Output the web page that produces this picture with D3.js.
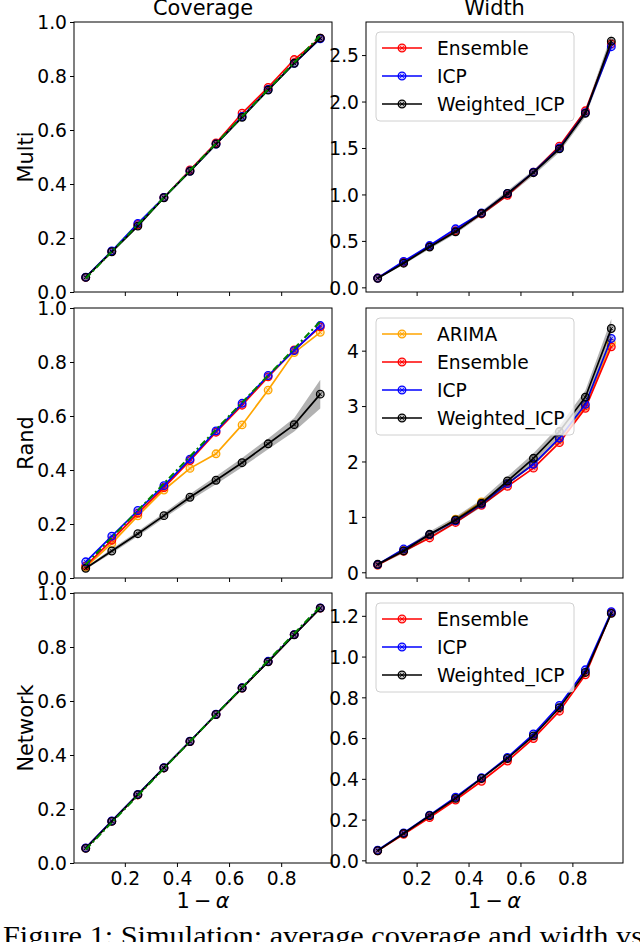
<!DOCTYPE html>
<html>
<head>
<meta charset="utf-8">
<script src="https://cdn.jsdelivr.net/npm/d3@7"></script>
<style>
  body { margin: 0; background: #fff; }
  svg { display: block; }
  text { font-family: "DejaVu Sans", sans-serif; fill: #000; }
</style>
</head>
<body>
<svg id="chart" width="640" height="942"></svg>
<script>
// nominal coverage levels (1 - alpha)
const levels = [0.05, 0.15, 0.25, 0.35, 0.45, 0.55, 0.65, 0.75, 0.85, 0.95];
const xTickValues = [0.2, 0.4, 0.6, 0.8];
const rowNames = ["Multi", "Rand", "Network"];
const colTitles = ["Coverage", "Width"];

// Multi
const multiCovEnsemble = [0.054, 0.150, 0.250, 0.350, 0.452, 0.552, 0.662, 0.758, 0.861, 0.940];
const multiCovICP      = [0.055, 0.152, 0.254, 0.350, 0.448, 0.548, 0.650, 0.750, 0.847, 0.938];
const multiCovWeighted = [0.054, 0.149, 0.244, 0.349, 0.447, 0.548, 0.647, 0.748, 0.847, 0.940];
const multiWidthEnsemble = [0.10, 0.27, 0.44, 0.61, 0.79, 0.99, 1.24, 1.52, 1.90, 2.62];
const multiWidthICP      = [0.10, 0.28, 0.45, 0.63, 0.80, 1.01, 1.24, 1.50, 1.88, 2.59];
const multiWidthWeighted = [0.097, 0.26, 0.434, 0.598, 0.796, 1.01, 1.234, 1.49, 1.873, 2.65];
const multiWidthWeightedErr = [0.01, 0.015, 0.02, 0.02, 0.025, 0.03, 0.03, 0.035, 0.04, 0.07];

// Rand
const randCovARIMA    = [0.040, 0.128, 0.230, 0.326, 0.406, 0.460, 0.567, 0.696, 0.835, 0.910];
const randCovEnsemble = [0.045, 0.140, 0.240, 0.335, 0.435, 0.540, 0.640, 0.745, 0.845, 0.930];
const randCovICP      = [0.060, 0.155, 0.250, 0.342, 0.440, 0.545, 0.647, 0.750, 0.842, 0.935];
const randCovWeighted = [0.036, 0.100, 0.164, 0.231, 0.299, 0.362, 0.427, 0.497, 0.568, 0.681];
const randCovWeightedErr = [0.004, 0.008, 0.009, 0.010, 0.012, 0.015, 0.017, 0.020, 0.025, 0.053];
const randWidthARIMA    = [0.13, 0.40, 0.67, 0.96, 1.27, 1.60, 1.95, 2.40, 3.00, 4.14];
const randWidthEnsemble = [0.13, 0.38, 0.62, 0.90, 1.21, 1.55, 1.88, 2.34, 2.96, 4.07];
const randWidthICP      = [0.14, 0.42, 0.68, 0.93, 1.23, 1.60, 1.95, 2.42, 3.03, 4.22];
const randWidthWeighted = [0.144, 0.385, 0.686, 0.944, 1.245, 1.648, 2.057, 2.54, 3.16, 4.40];
const randWidthWeightedErr = [0.02, 0.04, 0.05, 0.06, 0.07, 0.08, 0.09, 0.10, 0.12, 0.17];

// Network
const netCovEnsemble = [0.055, 0.155, 0.252, 0.352, 0.450, 0.550, 0.648, 0.746, 0.846, 0.944];
const netCovICP      = [0.056, 0.156, 0.254, 0.353, 0.451, 0.551, 0.649, 0.747, 0.846, 0.945];
const netCovWeighted = [0.054, 0.154, 0.253, 0.352, 0.450, 0.550, 0.648, 0.745, 0.845, 0.944];
const netWidthEnsemble = [0.047, 0.128, 0.210, 0.296, 0.388, 0.487, 0.598, 0.732, 0.910, 1.215];
const netWidthICP      = [0.050, 0.135, 0.222, 0.310, 0.405, 0.505, 0.620, 0.760, 0.935, 1.220];
const netWidthWeighted = [0.047, 0.132, 0.219, 0.304, 0.402, 0.500, 0.611, 0.749, 0.922, 1.212];

const colors = { ARIMA: "#ffa500", Ensemble: "#ff0000", ICP: "#0000ff", Weighted_ICP: "#000000" };

const colX = [[74, 332], [366, 623]];
const rowY = [[22, 292], [308, 578], [593, 863]];

const panels = [
  { r: 0, c: 0, diag: true, domain: [0, 1], ticks: d3.range(0, 1.01, 0.2), fmt: ".1f",
    series: [["Ensemble", multiCovEnsemble], ["ICP", multiCovICP], ["Weighted_ICP", multiCovWeighted]] },
  { r: 0, c: 1, legend: true, domain: [-0.05, 2.856], ticks: d3.range(0, 2.51, 0.5), fmt: ".1f",
    series: [["Ensemble", multiWidthEnsemble], ["ICP", multiWidthICP], ["Weighted_ICP", multiWidthWeighted, multiWidthWeightedErr]] },
  { r: 1, c: 0, diag: true, domain: [0, 1], ticks: d3.range(0, 1.01, 0.2), fmt: ".1f",
    series: [["ARIMA", randCovARIMA], ["Ensemble", randCovEnsemble], ["ICP", randCovICP], ["Weighted_ICP", randCovWeighted, randCovWeightedErr]] },
  { r: 1, c: 1, legend: true, domain: [-0.103, 4.77], ticks: [0, 1, 2, 3, 4], fmt: "d",
    series: [["ARIMA", randWidthARIMA], ["Ensemble", randWidthEnsemble], ["ICP", randWidthICP], ["Weighted_ICP", randWidthWeighted, randWidthWeightedErr]] },
  { r: 2, c: 0, diag: true, domain: [0, 1], ticks: d3.range(0, 1.01, 0.2), fmt: ".1f",
    series: [["Ensemble", netCovEnsemble], ["ICP", netCovICP], ["Weighted_ICP", netCovWeighted]] },
  { r: 2, c: 1, legend: true, domain: [-0.013, 1.312], ticks: d3.range(0, 1.21, 0.2), fmt: ".1f",
    series: [["Ensemble", netWidthEnsemble], ["ICP", netWidthICP], ["Weighted_ICP", netWidthWeighted]] }
];

const svg = d3.select("#chart");
const tickFont = 18.7;

function drawMarker(g, cx, cy, color) {
  g.append("circle")
    .attr("cx", cx).attr("cy", cy).attr("r", 3.8)
    .attr("fill", color).attr("fill-opacity", 0.25)
    .attr("stroke", color).attr("stroke-width", 1.3);
  const s = 1.8;
  g.append("path")
    .attr("d", `M${cx - s},${cy - s}L${cx + s},${cy + s}M${cx - s},${cy + s}L${cx + s},${cy - s}`)
    .attr("stroke", color).attr("stroke-width", 0.9);
}

panels.forEach(p => {
  const [x0, x1] = colX[p.c];
  const [y0, y1] = rowY[p.r];
  const x = d3.scaleLinear().domain([0.005, 0.995]).range([x0, x1]);
  const y = d3.scaleLinear().domain(p.domain).range([y1, y0]);
  const g = svg.append("g");

  const clipId = `clip${p.r}${p.c}`;
  g.append("clipPath").attr("id", clipId)
    .append("rect").attr("x", x0).attr("y", y0).attr("width", x1 - x0).attr("height", y1 - y0);
  const plot = g.append("g").attr("clip-path", `url(#${clipId})`);

  p.series.forEach(([name, vals, err]) => {
    const col = colors[name];
    const pts = levels.map((l, i) => ({ l, v: vals[i], e: err ? err[i] : 0 }));
    if (err) {
      plot.append("path")
        .attr("d", d3.area().x(d => x(d.l)).y0(d => y(d.v - d.e)).y1(d => y(d.v + d.e))(pts))
        .attr("fill", col).attr("fill-opacity", 0.3);
    }
    plot.append("path")
      .attr("d", d3.line().x(d => x(d.l)).y(d => y(d.v))(pts))
      .attr("fill", "none").attr("stroke", col).attr("stroke-width", 1.7);
    pts.forEach(d => drawMarker(plot, x(d.l), y(d.v), col));
  });

  if (p.diag) {
    plot.append("path")
      .attr("d", d3.line().x(d => x(d)).y(d => y(d))(levels))
      .attr("fill", "none").attr("stroke", "#008000").attr("stroke-width", 2)
      .attr("stroke-dasharray", "7,3,2,3");
  }

  // axes
  const xAxis = d3.axisBottom(x).tickValues(xTickValues).tickSize(4).tickPadding(5)
    .tickFormat(p.r === 2 ? d3.format(".1f") : () => "");
  const gx = g.append("g").attr("transform", `translate(0,${y1})`).call(xAxis);
  const yAxis = d3.axisLeft(y).tickValues(p.ticks).tickSize(4).tickPadding(3)
    .tickFormat(d3.format(p.fmt));
  const gy = g.append("g").attr("transform", `translate(${x0},0)`).call(yAxis);
  [gx, gy].forEach(a => {
    a.select(".domain").remove();
    a.selectAll(".tick line").attr("stroke", "#000");
    a.selectAll("text").attr("font-size", tickFont).attr("font-family", "DejaVu Sans").attr("fill", "#000");
  });
  gx.selectAll("text").attr("dy", "0.71em");
  gy.selectAll("text").attr("dy", "0.36em");

  g.append("rect")
    .attr("x", x0).attr("y", y0).attr("width", x1 - x0).attr("height", y1 - y0)
    .attr("fill", "none").attr("stroke", "#000").attr("stroke-width", 1);

  if (p.legend) {
    const n = p.series.length;
    const lx = x0 + 10, ly = y0 + 10;
    const lg = g.append("g");
    lg.append("rect")
      .attr("x", lx).attr("y", ly).attr("width", 198).attr("height", 33 + (n - 1) * 28)
      .attr("rx", 4).attr("fill", "#fff").attr("fill-opacity", 0.8)
      .attr("stroke", "#d0d0d0").attr("stroke-width", 1);
    p.series.forEach(([name], i) => {
      const cy = ly + 16 + i * 28;
      lg.append("line")
        .attr("x1", lx + 6).attr("x2", lx + 46).attr("y1", cy).attr("y2", cy)
        .attr("stroke", colors[name]).attr("stroke-width", 1.7);
      drawMarker(lg, lx + 26, cy, colors[name]);
      lg.append("text")
        .attr("x", lx + 61).attr("y", cy).attr("dy", "0.36em")
        .attr("font-size", tickFont).text(name);
    });
  }

  if (p.r === 0) {
    g.append("text").attr("x", (x0 + x1) / 2).attr("y", 15)
      .attr("text-anchor", "middle").attr("font-size", 20.9).text(colTitles[p.c]);
  }
  if (p.c === 0) {
    g.append("text")
      .attr("transform", `translate(33,${(y0 + y1) / 2}) rotate(-90)`)
      .attr("text-anchor", "middle").attr("font-size", 20.9).text(rowNames[p.r]);
  }
  if (p.r === 2) {
    const t = g.append("text").attr("x", (x0 + x1) / 2).attr("y", 908)
      .attr("text-anchor", "middle").attr("font-size", 20.9);
    t.append("tspan").text("1\u2009\u2212\u2009");
    t.append("tspan").attr("font-style", "italic").text("\u03b1");
  }
});

svg.append("text")
  .attr("x", 3).attr("y", 945)
  .attr("font-family", "Liberation Serif, serif").attr("font-size", 27)
  .attr("textLength", 640).attr("lengthAdjust", "spacingAndGlyphs")
  .style("font-family", "'Liberation Serif', serif")
  .text("Figure 1: Simulation: average coverage and width vs");
</script>
</body>
</html>
